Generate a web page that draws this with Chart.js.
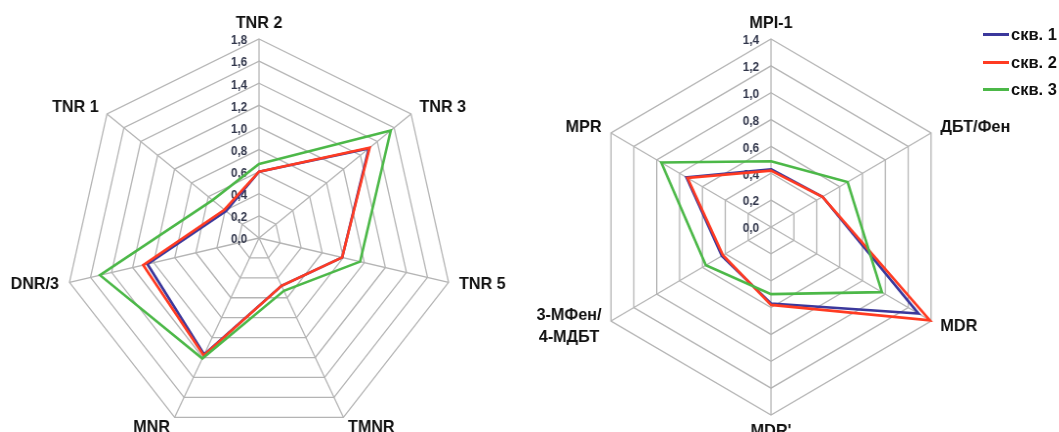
<!DOCTYPE html>
<html>
<head>
<meta charset="utf-8">
<script src="https://cdn.jsdelivr.net/npm/chart.js@4"></script>
<style>
  body { margin: 0; background: #fff; width: 1059px; height: 432px; overflow: hidden; position: relative; font-family: "Liberation Sans", Arial, sans-serif; }
  .box { position: absolute; }
  #left_box { left: 0px; top: 0px; width: 520px; height: 440px; transform: scaleX(0.977); transform-origin: 259px 0; }
  #right_box { left: 530px; top: 0px; width: 529px; height: 440px; transform: scaleX(0.983); transform-origin: 241px 0; }
  #legend { position: absolute; left: 983px; top: 21px; }
  .item { height: 27.5px; display: flex; align-items: center; font-weight: bold; font-size: 16.5px; color: #111; }
  .item span.ln { display: inline-block; width: 26px; height: 3px; margin-right: 2px; }
</style>
</head>
<body>
<div class="box" id="left_box"><canvas id="left_chart"></canvas></div>
<div class="box" id="right_box"><canvas id="right_chart"></canvas></div>
<div id="legend"></div>
<script>
// series names and colours
let wells = ["скв. 1", "скв. 2", "скв. 3"]
let colors = ["#3b389c", "#ff3b22", "#4cb848"]

// left chart
let leftAxes = ["TNR 2", "TNR 3", "TNR 5", "TMNR", "MNR", "DNR/3", "TNR 1"]
let leftWell1 = [0.60, 1.30, 0.79, 0.48, 1.17, 1.06, 0.39]
let leftWell2 = [0.60, 1.31, 0.79, 0.48, 1.18, 1.10, 0.41]
let leftWell3 = [0.67, 1.56, 0.96, 0.53, 1.21, 1.51, 0.55]
let leftMax = 1.8

// right chart
let rightAxes = ["MPI-1", "ДБТ/Фен", "MDR", "MDR'", ["3-МФен/", "4-МДБТ"], "MPR"]
let rightWell1 = [0.43, 0.45, 1.29, 0.57, 0.43, 0.74]
let rightWell2 = [0.42, 0.45, 1.39, 0.58, 0.42, 0.73]
let rightWell3 = [0.49, 0.67, 0.97, 0.50, 0.57, 0.96]
let rightMax = 1.4

// tick labels sit left of the vertical axis, 0,0 included
const tickLabels = {
    id: "tickLabels",
    beforeDatasetsDraw(chart) {
        let s = chart.scales.r
        let ctx = chart.ctx
        ctx.save()
        ctx.font = "bold 12px 'Liberation Sans'"
        ctx.fillStyle = "#30354a"
        ctx.textAlign = "right"
        ctx.textBaseline = "middle"
        s.ticks.forEach(function(t){
            let y = s.yCenter - s.getDistanceFromCenterForValue(t.value)
            ctx.fillText(t.value.toFixed(1).replace(".", ","), s.xCenter - 12, y + 2)
        })
        ctx.restore()
    }
}

// axis names placed just outside each spoke
const axisLabels = {
    id: "axisLabels",
    afterDraw(chart) {
        let s = chart.scales.r
        let ctx = chart.ctx
        ctx.save()
        ctx.font = "bold 16.5px 'Liberation Sans'"
        ctx.fillStyle = "#111"
        ctx.textAlign = "center"
        ctx.textBaseline = "middle"
        chart.data.labels.forEach(function(label, i){
            let lines = [].concat(label)
            let p = s.getPointPosition(i, s.drawingArea + 11)
            let ux = (p.x - s.xCenter) / (s.drawingArea + 11)
            let uy = (p.y - s.yCenter) / (s.drawingArea + 11)
            let w = Math.max.apply(null, lines.map(function(l){ return ctx.measureText(l).width }))
            let y = p.y
            let left
            if (Math.abs(ux) < 0.1) { left = p.x - w / 2; y += uy * 5 }
            else if (ux > 0) left = p.x
            else left = p.x - w
            let top = y - (lines.length - 1) * 11
            lines.forEach(function(l, k){
                ctx.fillText(l, left + w / 2, top + k * 22)
            })
        })
        ctx.restore()
    }
}

function makeRadar(id, labels, series, max, pad) {
    return new Chart(id, {
        type: "radar",
        data: {
            labels: labels,
            datasets: series.map(function(values, i){
                return {
                    label: wells[i],
                    data: values,
                    borderColor: colors[i],
                    backgroundColor: "transparent",
                    borderWidth: 2.6,
                    fill: false,
                    pointRadius: 0,
                    tension: 0,
                    order: 3 - i
                }
            })
        },
        options: {
            responsive: true,
            maintainAspectRatio: false,
            animation: false,
            layout: { padding: pad },
            plugins: { legend: { display: false }, tooltip: { enabled: false } },
            scales: {
                r: {
                    min: 0,
                    max: max,
                    ticks: { stepSize: 0.2, display: false },
                    grid: { color: "#b4b4b4", lineWidth: 1.3 },
                    angleLines: { color: "#b4b4b4", lineWidth: 1.3 },
                    pointLabels: { display: false }
                }
            }
        },
        plugins: [tickLabels, axisLabels]
    })
}

makeRadar("left_chart", leftAxes, [leftWell1, leftWell2, leftWell3], leftMax,
    { left: 60, top: 39, right: 62, bottom: 3 })
makeRadar("right_chart", rightAxes, [rightWell1, rightWell2, rightWell3], rightMax,
    { left: 53, top: 39, right: 100, bottom: 25 })

// legend
let legend = document.querySelector("#legend")
for (let i = 0; i < wells.length; i++) {
    let row = document.createElement("div")
    row.className = "item"
    row.innerHTML = '<span class="ln" style="background:' + colors[i] + '"></span>' + wells[i]
    legend.appendChild(row)
}
</script>
</body>
</html>
